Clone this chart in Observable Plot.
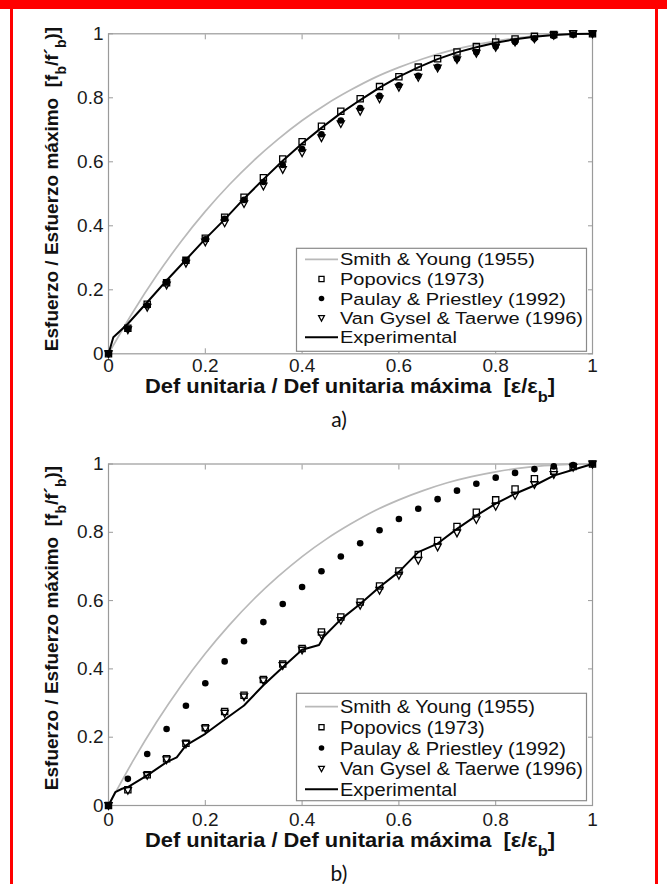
<!DOCTYPE html>
<html><head><meta charset="utf-8">
<script src="https://cdn.jsdelivr.net/npm/d3@7"></script>
<script src="https://cdn.jsdelivr.net/npm/@observablehq/plot@0.6"></script>
<style>
html,body{margin:0;padding:0;background:#fff;}
body{width:667px;height:884px;position:relative;overflow:hidden;font-family:"Liberation Sans",Arial,sans-serif;}
.panel{position:absolute;left:0;}
.cap{position:absolute;font-family:Lato,"Open Sans",sans-serif;font-size:21px;color:#111;transform:translate(-50%,-50%);}
#topband{position:absolute;left:0;top:0;width:667px;height:9px;background:#ff0000;}
#lline{position:absolute;left:10px;top:0;width:3px;height:884px;background:#ff0000;}
#rline{position:absolute;left:655px;top:0;width:3px;height:884px;background:#ff0000;}
</style></head><body>
<div id="pa" class="panel" style="top:0px"></div>
<div id="pb" class="panel" style="top:440px"></div>
<div class="cap" style="left:339px;top:418px">a)</div>
<div class="cap" style="left:339px;top:872px">b)</div>
<div id="topband"></div><div id="lline"></div><div id="rline"></div>
<script>
// ---------- data ----------
const seriesNames = ["Smith & Young (1955)", "Popovics (1973)", "Paulay & Priestley (1992)", "Van Gysel & Taerwe (1996)", "Experimental"];
const tickValues = [0, 0.2, 0.4, 0.6, 0.8, 1];
const tickLabels = ["0", "0.2", "0.4", "0.6", "0.8", "1"];

const modelX = [0,0.04,0.08,0.12,0.16,0.2,0.24,0.28,0.32,0.36,0.4,0.44,0.48,0.52,0.56,0.6,0.64,0.68,0.72,0.76,0.8,0.84,0.88,0.92,0.96,1];

const smithX = [0,0.05,0.1,0.15,0.2,0.25,0.3,0.35,0.4,0.45,0.5,0.55,0.6,0.65,0.7,0.75,0.8,0.85,0.9,0.95,1];
const smithY = [0,0.129,0.246,0.351,0.445,0.529,0.604,0.67,0.729,0.78,0.824,0.863,0.895,0.922,0.945,0.963,0.977,0.988,0.995,0.999,1];

const paulayY = [0,0.078,0.151,0.224,0.292,0.358,0.422,0.481,0.537,0.59,0.64,0.686,0.729,0.768,0.806,0.839,0.869,0.897,0.922,0.942,0.96,0.974,0.985,0.993,0.997,1];

// panel a)
const popovicsA = [0,0.08,0.155,0.222,0.292,0.361,0.427,0.489,0.55,0.609,0.663,0.711,0.758,0.797,0.835,0.866,0.896,0.922,0.943,0.96,0.974,0.984,0.992,0.998,1,1];
const vanGyselA = [0,0.075,0.145,0.215,0.283,0.349,0.409,0.469,0.524,0.576,0.628,0.675,0.719,0.758,0.797,0.833,0.864,0.893,0.919,0.939,0.958,0.974,0.984,0.995,1,1];
const expAX = [0,0.01,0.04,0.08,0.12,0.16,0.2,0.24,0.28,0.32,0.36,0.4,0.44,0.48,0.52,0.56,0.6,0.64,0.68,0.72,0.76,0.8,0.84,0.88,0.92,0.96,1];
const expAY = [0,0.052,0.094,0.161,0.229,0.294,0.359,0.42,0.485,0.545,0.603,0.657,0.706,0.752,0.793,0.832,0.866,0.895,0.921,0.942,0.958,0.972,0.983,0.991,0.996,0.999,1];

// panel b)
const popovicsB = [0,0.046,0.09,0.137,0.182,0.228,0.275,0.323,0.369,0.414,0.46,0.508,0.552,0.596,0.643,0.687,0.735,0.776,0.817,0.859,0.895,0.927,0.957,0.979,0.993,1];
const vanGyselB = [0,0.044,0.088,0.134,0.18,0.225,0.27,0.318,0.365,0.41,0.455,0.499,0.542,0.586,0.63,0.674,0.718,0.757,0.798,0.837,0.876,0.908,0.94,0.969,0.99,1];
const expBX = [0,0.014,0.028,0.04,0.08,0.12,0.141,0.16,0.2,0.24,0.28,0.32,0.36,0.4,0.435,0.445,0.48,0.52,0.56,0.6,0.64,0.68,0.72,0.76,0.8,0.84,0.88,0.92,0.96,1];
const expBY = [0,0.039,0.049,0.054,0.088,0.127,0.141,0.176,0.21,0.252,0.293,0.352,0.405,0.456,0.47,0.495,0.545,0.59,0.64,0.684,0.742,0.767,0.81,0.849,0.884,0.913,0.937,0.966,0.983,1];

// ---------- helpers ----------
const zip = (xs, ys) => xs.map((x, i) => ({x, y: ys[i]}));
const labelOf = d => tickLabels[tickValues.indexOf(d)];
const triangleDown = {
  draw(ctx, size) {
    const r = Math.sqrt(size / Math.PI);
    const w = r * 1.0, t = r * 0.8, b = r * 1.05;
    ctx.moveTo(-w, -t); ctx.lineTo(w, -t); ctx.lineTo(0, b); ctx.closePath();
  }
};
const FRAME = "#9a9a9a";
const GRAYLINE = "#b9b9b9";

function panel(container, opt) {
  const svg = Plot.plot({
    width: 667, height: opt.height,
    marginLeft: 108, marginRight: 75, marginTop: opt.mt, marginBottom: opt.mb,
    x: {domain: [0, 1]}, y: {domain: [0, 1]},
    style: {fontFamily: "'Liberation Sans', Arial, sans-serif", fontSize: "19px", color: "#1a1a1a", background: "transparent", overflow: "visible"},
    marks: [
      Plot.frame({stroke: FRAME, strokeWidth: 1.2}),
      Plot.axisX(tickValues, {anchor: "bottom", tickSize: -5, stroke: FRAME, tickFormat: () => "", label: null}),
      Plot.axisX(tickValues, {anchor: "top", tickSize: -5, stroke: FRAME, tickFormat: () => "", label: null}),
      Plot.axisY(tickValues, {anchor: "left", tickSize: -5, stroke: FRAME, tickFormat: () => "", label: null}),
      Plot.axisY(tickValues, {anchor: "right", tickSize: -5, stroke: FRAME, tickFormat: () => "", label: null}),
      Plot.axisX(tickValues, {anchor: "bottom", tickSize: 0, tickPadding: opt.xpad, tickFormat: labelOf, label: null, fill: "#1a1a1a"}),
      Plot.axisY(tickValues, {anchor: "left", tickSize: 0, tickPadding: 5, tickFormat: labelOf, label: null, fill: "#1a1a1a"}),
      Plot.line(zip(smithX, smithY), {x: "x", y: "y", stroke: GRAYLINE, strokeWidth: 1.7, curve: "monotone-x"}),
      Plot.dot(zip(modelX, opt.pop), {x: "x", y: "y", symbol: "square", r: 3.5, stroke: "#000", strokeWidth: 1.3, fill: "none"}),
      Plot.dot(zip(modelX, paulayY), {x: "x", y: "y", r: 3.3, fill: "#000", stroke: "none"}),
      Plot.dot(zip(modelX, opt.van), {x: "x", y: "y", symbol: triangleDown, r: 3.6, stroke: "#000", strokeWidth: 1.3, fill: "none"}),
      Plot.line(zip(opt.expX, opt.expY), {x: "x", y: "y", stroke: "#000", strokeWidth: 2})
    ]
  });
  container.append(svg);
  const g = d3.select(svg);
  // y title
  const yt = g.append("text")
    .attr("transform", `translate(51,${opt.ytitleY}) rotate(-90)`)
    .attr("text-anchor", "middle").attr("dy", "0.35em")
    .attr("font-weight", "bold").attr("font-size", 19).attr("fill", "#111")
    .style("white-space", "pre");
  yt.append("tspan").text("Esfuerzo / Esfuerzo máximo  [f");
  yt.append("tspan").attr("baseline-shift", "sub").attr("font-size", 14).text("b");
  yt.append("tspan").text("/f´");
  yt.append("tspan").attr("baseline-shift", "sub").attr("font-size", 14).text("b");
  yt.append("tspan").text(")]");
  // x title (centred on the axes)
  const xt = g.append("text")
    .attr("x", 350).attr("y", opt.xtitleY)
    .attr("text-anchor", "middle")
    .attr("font-weight", "bold").attr("font-size", 20).attr("fill", "#111")
    .attr("textLength", 410).attr("lengthAdjust", "spacingAndGlyphs")
    .style("white-space", "pre");
  xt.append("tspan").text("Def unitaria / Def unitaria máxima  [ε/ε");
  xt.append("tspan").attr("baseline-shift", "sub").attr("font-size", 15).text("b");
  xt.append("tspan").text("]");
  // legend
  const L = opt.legend;
  const lg = g.append("g").attr("text-anchor", "start");
  lg.append("rect").attr("x", 296.5).attr("y", L.top).attr("width", 290).attr("height", L.h)
    .attr("fill", "#fff").attr("stroke", "#8a8a8a").attr("stroke-width", 1.2);
  const texts = [];
  seriesNames.forEach((name, i) => {
    const cy = L.rows[i];
    if (i === 0) lg.append("line").attr("x1", 305).attr("x2", 338).attr("y1", cy).attr("y2", cy).attr("stroke", GRAYLINE).attr("stroke-width", 1.7);
    if (i === 4) lg.append("line").attr("x1", 305).attr("x2", 338).attr("y1", cy).attr("y2", cy).attr("stroke", "#000").attr("stroke-width", 2);
    if (i === 1) lg.append("path").attr("d", d3.symbol(d3.symbolSquare, 26)()).attr("transform", `translate(321.5,${cy})`).attr("fill", "none").attr("stroke", "#000").attr("stroke-width", 1.3);
    if (i === 2) lg.append("circle").attr("cx", 321.5).attr("cy", cy).attr("r", 2.8).attr("fill", "#000");
    if (i === 3) lg.append("path").attr("d", d3.symbol(triangleDown, 26)()).attr("transform", `translate(321.5,${cy})`).attr("fill", "none").attr("stroke", "#000").attr("stroke-width", 1.3);
    texts.push(lg.append("text").attr("x", 340).attr("y", cy).attr("dy", "0.36em").attr("text-anchor", "start")
      .attr("font-size", L.fs).attr("fill", "#111").text(name));
  });
  // stretch legend labels so the longest one spans the same width as in the reference
  const k = L.longest / texts[3].node().getComputedTextLength();
  texts.forEach(t => t.attr("textLength", t.node().getComputedTextLength() * k).attr("lengthAdjust", "spacingAndGlyphs"));
}

panel(document.getElementById("pa"), {
  height: 440, mt: 33.3, mb: 440 - 353.3, xpad: 5,
  pop: popovicsA, van: vanGyselA, expX: expAX, expY: expAY,
  ytitleY: 189, xtitleY: 392.5,
  legend: {top: 248.3, h: 103, fs: 17.2, longest: 243, rows: [259.3, 279, 298.5, 318, 337.2]}
});
panel(document.getElementById("pb"), {
  height: 444, mt: 463.5 - 440, mb: 884 - 805, xpad: 7,
  pop: popovicsB, van: vanGyselB, expX: expBX, expY: expBY,
  ytitleY: 628 - 440, xtitleY: 847 - 440,
  legend: {top: 693.3 - 440, h: 107.4, fs: 18.3, longest: 243, rows: [706.7 - 440, 727.2 - 440, 748 - 440, 768.7 - 440, 789.2 - 440]}
});
</script>
</body></html>
